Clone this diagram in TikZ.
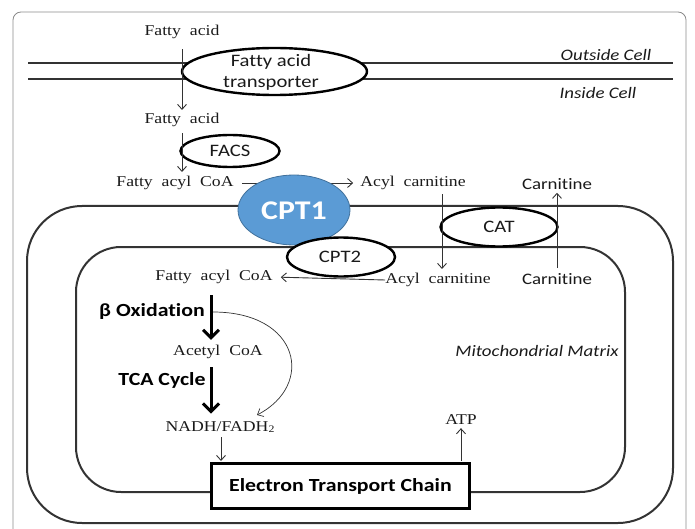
\documentclass[tikz,border=0pt]{standalone}
\usepackage{fontspec}
\setmainfont{Liberation Serif}[FakeStretch=1.18]
\newfontfamily\sansf{Carlito}[FakeStretch=1.18,Ligatures=NoCommon]
\usetikzlibrary{shapes.geometric,arrows.meta}
\definecolor{ink}{HTML}{1A1A1A}
\definecolor{linec}{HTML}{333333}
\definecolor{cptfill}{HTML}{5B9BD5}
\definecolor{cptline}{HTML}{41719C}
\definecolor{framec}{HTML}{8A8A8A}
\begin{document}
\begin{tikzpicture}[x=1pt,y=-1pt,
  serif/.style={font=\fontsize{15}{16}\selectfont, text=ink, inner sep=0pt},
  sanslab/.style={font=\sansf\fontsize{17.5}{21}\selectfont, text=ink, inner sep=0pt, align=center},
  smallsans/.style={font=\sansf\fontsize{16}{18}\selectfont, text=ink, inner sep=0pt},
  itlab/.style={font=\sansf\itshape\fontsize{16}{18}\selectfont, text=ink, inner sep=0pt},
  boldlab/.style={font=\sansf\bfseries\fontsize{18.5}{20}\selectfont, text=black, inner sep=0pt},
  enzyme/.style={ellipse, draw=black, line width=2.4pt, fill=white, inner sep=0pt},
  thinarrow/.style={-{Straight Barb[length=5pt,width=9pt]}, line width=0.9pt, draw=linec},
  thickarrow/.style={-{Straight Barb[length=8pt,width=16pt]}, line width=3pt, draw=black},
  membrane/.style={line width=2pt, draw=linec},
]
\useasboundingbox (0,0) rectangle (695,529);
\draw[framec, line width=0.8pt, rounded corners=8pt] (13,12) rectangle (686,545);

% cell membrane
\coordinate (mlA) at (28,63);
\coordinate (mlB) at (673,63);
\coordinate (mlC) at (28,79);
\coordinate (mlD) at (673,79);
\draw[membrane] (mlA) -- (mlB);
\draw[membrane] (mlC) -- (mlD);
\node[itlab] (outside) at (606,55) {Outside Cell};
\node[itlab] (inside) at (598,93) {Inside Cell};

\node[enzyme, minimum width=185pt, minimum height=47pt] (fat) at (274.5,71.5) {};
\node[sanslab] (fattext) at (271,72) {Fatty acid\\transporter};

\node[serif] (fa1) at (182,32) {Fatty\hspace{0.3em} acid};
\node[serif] (fa2) at (182,120) {Fatty\hspace{0.3em} acid};
\draw[thinarrow, shorten <=10pt, shorten >=3pt] (fa1.south) -- (fa2.north);

\node[enzyme, minimum width=99pt, minimum height=32pt] (facs) at (230,151) {};
\node[sanslab] (facstext) at (230,151) {FACS};
\node[serif] (facoa1) at (175,183) {Fatty\hspace{0.3em} acyl\hspace{0.3em} CoA};
\draw[thinarrow, shorten <=6pt, shorten >=4pt] (fa2.south) -- (fa2.south |- facoa1.north);

\node[serif] (ac1) at (413,183) {Acyl\hspace{0.3em} carnitine};
\draw[thinarrow, shorten <=8pt, shorten >=7pt] (facoa1.east) -- (ac1.west);

% mitochondrion
\draw[membrane, rounded corners=55pt] (27,206) rectangle (673,523);
\draw[membrane, rounded corners=45pt] (76,247) rectangle (625,492);

\node[ellipse, fill=cptfill, draw=cptline, line width=0.8pt, minimum width=112pt, minimum height=70pt, inner sep=0pt] (cpt1) at (294,210) {};
\node[font=\sansf\bfseries\fontsize{27}{30}\selectfont, text=white, inner sep=0pt] (cpt1text) at (294,211) {CPT1};

\node[enzyme, minimum width=108pt, minimum height=39pt] (cpt2) at (341,257) {};
\node[sanslab] (cpt2text) at (340,257) {CPT2};
\node[enzyme, minimum width=117pt, minimum height=39pt] (cat) at (499,227) {};
\node[sanslab] (cattext) at (499,227) {CAT};

\node[smallsans] (car1) at (557,184) {Carnitine};
\node[smallsans] (car2) at (557,279) {Carnitine};
\node[serif] (ac2) at (438,280) {Acyl\hspace{0.3em} carnitine};
\node[serif] (facoa2) at (214,277) {Fatty\hspace{0.3em} acyl\hspace{0.3em} CoA};

\coordinate (acx) at (442,0);
\draw[thinarrow, shorten <=4pt, shorten >=4pt] (ac1.south -| acx) -- (ac2.north -| acx);
\draw[thinarrow, shorten <=5pt, shorten >=3pt] (car2.north) -- (car1.south);
\draw[thinarrow, shorten >=8pt] (ac2.west) -- (facoa2.east);

% beta oxidation / TCA
\node[boldlab] (betaox) at (152,311) {β Oxidation};
\node[serif] (acetyl) at (218,352) {Acetyl\hspace{0.3em} CoA};
\node[boldlab] (tca) at (162,380) {TCA Cycle};
\node[serif] (nadh) at (220,427) {NADH/FADH\raisebox{-0.1ex}{\fontsize{10}{11}\selectfont 2}};

\coordinate (tx) at (211,0);
\draw[thickarrow, shorten <=11pt, shorten >=5pt] (facoa2.south -| tx) -- (acetyl.north -| tx);
\draw[thickarrow, shorten <=8pt, shorten >=8pt] (acetyl.south -| tx) -- (nadh.north -| tx);

\coordinate (cs) at (213,312);
\coordinate (ce) at (257,415);
\draw[thinarrow, line width=0.7pt] (cs) .. controls (300,312) and (315,385) .. (ce);

\node[itlab] (matrix) at (537,351) {Mitochondrial Matrix};

% ETC
\node[draw=black, line width=3pt, fill=white, minimum width=258pt, minimum height=45pt, inner sep=0pt,
      font=\sansf\bfseries\fontsize{18.5}{20}\selectfont, text=black] (etc) at (340.5,486) {Electron Transport Chain};
\node[serif] (atp) at (461,420) {ATP};
\coordinate (nx) at (221,0);
\coordinate (ax) at (461,0);
\draw[thinarrow, shorten <=5pt, shorten >=1pt] (nadh.south -| nx) -- (etc.north -| nx);
\draw[thinarrow, shorten <=1pt, shorten >=3pt] (etc.north -| ax) -- (atp.south);
\end{tikzpicture}
\end{document}
